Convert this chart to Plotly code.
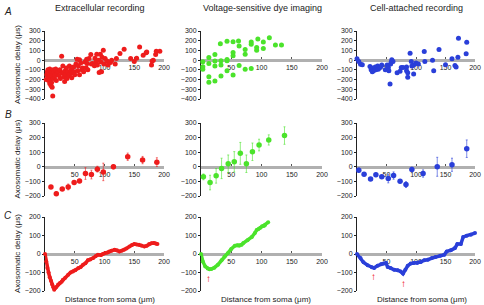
import plotly.graph_objects as go

RED = "#ee1c1c"
GREEN = "#4be32b"
BLUE = "#2a3fd9"
FONT = "Liberation Sans, Arial, sans-serif"

col_titles = ["Extracellular recording", "Voltage-sensitive dye imaging", "Cell-attached recording"]
row_letters = ["A", "B", "C"]
y_title = "Axosomatic delay (μs)"
x_title = "Distance from soma (μm)"
x_ticks = [50, 100, 150, 200]

# ---- Row A: raw scatter
A_ext_x = [2, 3, 4, 5, 5, 6, 7, 7, 8, 8, 9, 9, 10, 10, 11, 11, 12, 12, 13, 13, 14, 14, 15, 16, 17, 18, 19, 20,
           22, 24, 25, 26, 28, 29, 30, 31, 32, 33, 34, 35, 36, 37, 38, 40, 41, 42, 44, 45, 46, 48, 49, 50,
           52, 54, 55, 56, 58, 58, 60, 62, 63, 65, 67, 69, 70, 71, 72, 74, 77, 78, 80, 83, 84, 86, 87, 88,
           90, 91, 93, 94, 95, 96, 98, 99, 101, 104, 106, 110, 112, 118, 120, 126, 133, 144, 150, 154, 159,
           165, 170, 171, 179, 180, 182, 186, 187, 193, 200]
A_ext_y = [-200, -150, -120, -100, -170, -210, -130, -180, -90, -240, -150, -200, -110, -260, -160, -230,
           -120, -280, -140, -370, -190, -100, -130, -170, -150, -90, -210, -140,
           -120, -160, -100, -190, 40, -130, -60, -130, -170, -220, -110, -150, -80, -190, -120, -160, -60,
           -140, -100, -180, -130, -70, -120, -150,
           -40, 10, -110, -60, 5, -150, -30, -100, -80, -120, -20, -78, 10, -34, -100, 17, 58, -40, -34, -58,
           20, -17, 60, -50, 0, -126, 61, -20, -120, 30, 102, -40, 17, -10, -50, -24, 0, -40, 17, 68, 112, 17,
           -14, 20, 136, 51, 75, 85, -51, -10, 0, 58, 92, 92]

A_vsd_x = [142, 113, 94, 103, 83, 83, 92, 92, 103, 62, 53, 43, 32, 63, 73, 73, 53, 53, 123, 133,
           3, 3, 3, 13, 13, 23, 23, 23, 33, 33, 43, 43, 43, 13, 13, 23, 33, 53, 63, 73, 83]
A_vsd_y = [340, 231, 218, 187, 187, 163, 129, 102, 119, 197, 190, 194, 170, 146, 109, 61, 78, 44, 156, 156,
           -17, -68, -95, 27, -34, 58, -10, -61, -7, -51, 7, -7, -109, -170, -228, -214, -163, -153, -54,
           -95, -85]

A_ca_x = [0, 3, 6, 9, 22, 24, 26, 27, 28, 30, 31, 32, 34, 35, 36, 38, 40, 42, 48, 51, 53, 54, 57, 58, 59,
          61, 56, 68, 73, 75, 78, 84, 84, 86, 86, 90, 92, 93, 96, 96, 100, 104, 114, 115, 128, 130, 139, 150,
          161, 166, 168, 171, 172, 185, 186, 201, 201]
A_ca_y = [14, -14, -41, -48, -65, -100, -120, -80, -110, -90, -70, -100, -85, -60, -95, -80, -70, -50, -100,
          -50, -75, -110, -40, -20, 5, -15, -245, -130, -115, -75, -75, -70, -110, -130, -177, 71, -14, -60,
          -143, -50, -30, -40, 88, -15, 0, -109, 109, -48, 14, -54, -71, 31, 225, 65, 184, 116, 82]

# ---- Row B: binned means with error bars
B_ext_x = [10, 19, 29, 39, 49, 58, 68, 78, 88, 98, 115, 139, 164, 188]
B_ext_y = [-138, -184, -152, -138, -108, -97, -46, -53, -16, -35, 0, 69, 46, 32]
B_ext_e = [10, 15, 10, 20, 10, 12, 40, 30, 20, 60, 15, 25, 25, 30]

B_vsd_x = [4, 15, 25, 34, 45, 55, 65, 75, 85, 96, 112, 138]
B_vsd_y = [-69, -108, -62, -11, 21, 34, 92, 21, 103, 149, 184, 214]
B_vsd_e = [20, 50, 50, 70, 60, 70, 75, 60, 60, 40, 35, 60]

B_ca_x = [3, 12, 23, 32, 42, 53, 62, 73, 83, 93, 112, 136, 161, 186]
B_ca_y = [-23, -51, -83, -55, -69, -80, -60, -99, -122, -18, -46, 0, 14, 124]
B_ca_e = [15, 8, 10, 12, 10, 30, 25, 10, 20, 15, 25, 65, 45, 60]

# ---- Row C: smoothed curves
C_ext_x = [0, 2, 4, 6, 8, 10, 12, 14, 15.5, 17, 19, 22, 25, 28, 30, 34, 39, 43, 47, 51, 56, 60, 64, 68, 72,
           76, 81, 85, 89, 94, 97, 101, 105, 108, 112, 117, 121, 125, 129, 133, 137, 142, 146, 150, 154,
           158, 162, 167, 171, 175, 179, 183, 186, 189]
C_ext_y = [0, -40, -75, -100, -125, -145, -165, -180, -193, -185, -178, -165, -157, -150, -139, -128, -112,
           -100, -94, -88, -76, -70, -58, -50, -34, -30, -22, -12, -4, -6, 0, 5, 8, 14, 18, 23, 20, 14, 18, 23,
           30, 41, 48, 54, 52, 50, 46, 41, 44, 54, 58, 59, 57, 54]

C_vsd_x = [0, 3, 7, 11, 14, 17, 22, 28, 34, 39, 45, 50, 56, 60, 63, 67, 70, 77, 84, 89, 92, 95, 98, 101,
           104, 106, 111]
C_vsd_y = [0, -40, -67, -79, -82, -81, -74, -58, -34, -13, 5, 27, 45, 47, 45, 50, 59, 74, 92, 113, 130,
           135, 142, 150, 152, 157, 171]

C_ca_x = [0, 6, 11, 18, 25, 29, 35, 41, 45, 49, 52, 57, 63, 69, 74, 78, 82, 86, 91, 96, 102, 108, 114, 120,
          127, 133, 141, 148, 152, 159, 166, 170, 176, 180, 186, 193, 200]
C_ca_y = [0, -22, -45, -61, -72, -76, -63, -54, -52, -49, -70, -76, -85, -88, -94, -106, -85, -63, -52,
          -49, -49, -43, -34, -31, -22, -16, -9, -4, 14, 20, 32, 54, 54, 92, 99, 104, 113]

# red arrows marking minima (column, x, y)
arrows = [(1, 14.5, -232), (2, 13, -135), (3, 28.5, -124), (3, 79, -157)]

# ---- layout geometry (pixels)
W, H = 484, 305
col_px = [(45, 164), (201, 322), (357, 475)]
row_px = [(31, 99), (123, 196), (217, 291)]
row_range = [(-400, 300), (-200, 300), (-200, 200)]

fig = go.Figure()
colors = [RED, GREEN, BLUE]
rowA = [(A_ext_x, A_ext_y), (A_vsd_x, A_vsd_y), (A_ca_x, A_ca_y)]
rowB = [(B_ext_x, B_ext_y, B_ext_e), (B_vsd_x, B_vsd_y, B_vsd_e), (B_ca_x, B_ca_y, B_ca_e)]
rowC = [(C_ext_x, C_ext_y), (C_vsd_x, C_vsd_y), (C_ca_x, C_ca_y)]

def rgba(h, a):
    h = h.lstrip("#")
    return "rgba(%d,%d,%d,%.2f)" % (int(h[0:2], 16), int(h[2:4], 16), int(h[4:6], 16), a)

layout = dict(template="none", width=W, height=H, margin=dict(l=0, r=0, t=0, b=0, pad=0),
              paper_bgcolor="white", plot_bgcolor="rgba(0,0,0,0)", showlegend=False,
              font=dict(family=FONT, size=7, color="#222"))
annotations = []

for r in range(3):
    for c in range(3):
        i = r * 3 + c + 1
        xa = "x" if i == 1 else "x%d" % i
        ya = "y" if i == 1 else "y%d" % i
        col = colors[c]
        if r == 0:
            xs, ys = rowA[c]
            fig.add_trace(go.Scatter(x=xs, y=ys, mode="markers", xaxis=xa, yaxis=ya, cliponaxis=False,
                                     marker=dict(size=5, color=col, line=dict(width=0))))
        elif r == 1:
            xs, ys, es = rowB[c]
            fig.add_trace(go.Scatter(x=xs, y=ys, mode="markers", xaxis=xa, yaxis=ya, cliponaxis=False,
                                     marker=dict(size=5.5, color=col, line=dict(width=0)),
                                     error_y=dict(type="data", array=es, color=rgba(col, 0.6),
                                                  thickness=1, width=1)))
        else:
            xs, ys = rowC[c]
            fig.add_trace(go.Scatter(x=xs, y=ys, mode="lines+markers", xaxis=xa, yaxis=ya, cliponaxis=False,
                                     line=dict(color=col, width=3.5),
                                     marker=dict(size=4, color=col, line=dict(width=0))))
        x0, x1 = col_px[c]
        ytop, ybot = row_px[r]
        ylo, yhi = row_range[r]
        dy0 = 1 - ybot / H
        dy1 = 1 - ytop / H
        zero_pos = dy0 + (0 - ylo) / (yhi - ylo) * (dy1 - dy0)
        layout["xaxis" if i == 1 else "xaxis%d" % i] = dict(
            domain=[x0 / W, x1 / W], range=[0, 200], anchor="free", position=zero_pos, automargin=False,
            showline=True, linecolor="#b0b0b0", linewidth=2.5, showgrid=False, zeroline=False,
            tickvals=x_ticks, ticks="inside", ticklen=2, tickcolor="#555", tickangle=0,
            tickfont=dict(size=7, color="#222"), layer="below traces")
        layout["yaxis" if i == 1 else "yaxis%d" % i] = dict(
            domain=[dy0, dy1], range=[ylo, yhi], anchor=xa, showline=True, linecolor="#222",
            linewidth=1, showgrid=False, zeroline=False, dtick=100, ticks="outside", ticklen=2,
            automargin=False, tickcolor="#222", tickfont=dict(size=7, color="#222"), layer="below traces")
        if c == 0:
            annotations.append(dict(text=y_title, textangle=-90, xref="paper", yref="paper",
                                    x=17 / W, y=(dy0 + dy1) / 2, showarrow=False,
                                    xanchor="center", yanchor="middle",
                                    font=dict(size=8, color="#222")))
        if r == 2:
            annotations.append(dict(text=x_title, xref="paper", yref="paper",
                                    x=[110, 266, 422][c] / W, y=1 - 299 / H, showarrow=False,
                                    xanchor="center", yanchor="middle",
                                    font=dict(size=8, color="#222")))
        if r == 0:
            annotations.append(dict(text=col_titles[c], xref="paper", yref="paper",
                                    x=[100, 262, 416][c] / W, y=1 - 8 / H, showarrow=False,
                                    xanchor="center", yanchor="middle",
                                    font=dict(size=9, color="#222")))

for k, top in enumerate([12, 115, 215]):
    annotations.append(dict(text="<i>%s</i>" % row_letters[k], xref="paper", yref="paper",
                            x=8 / W, y=1 - top / H, showarrow=False, xanchor="center", yanchor="middle",
                            font=dict(size=10, color="#222")))

for (c, ax, ay) in arrows:
    i = 6 + c
    annotations.append(dict(text="<b>↑</b>", xref="x%d" % i, yref="y%d" % i, x=ax, y=ay, showarrow=False,
                            xanchor="center", yanchor="middle",
                            font=dict(size=10, color="#ee0000")))

layout["annotations"] = annotations
fig.update_layout(**layout)
fig.write_html("out.html", config={"displayModeBar": False},
               post_script="document.body.style.margin='0px';document.body.style.overflow='hidden';")
